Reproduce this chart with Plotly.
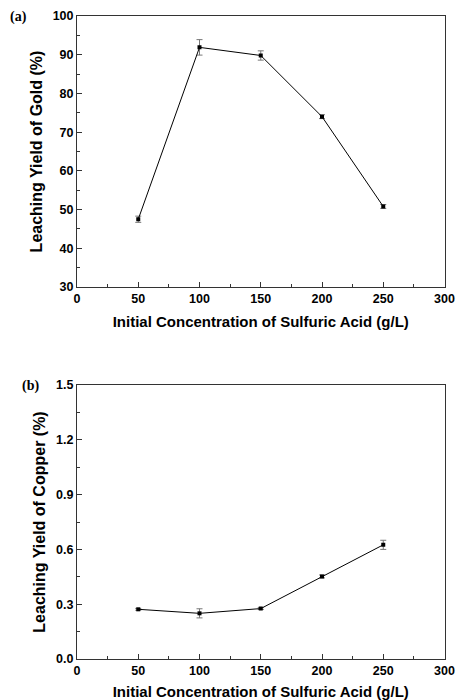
import plotly.graph_objects as go

conc = [50, 100, 150, 200, 250]
gold_yield = [47.5, 91.9, 89.8, 74.0, 50.8]
gold_err = [0.8, 2.0, 1.2, 0.5, 0.5]
copper_yield = [0.272, 0.250, 0.276, 0.452, 0.625]
copper_err = [0.005, 0.025, 0.005, 0.008, 0.025]

x_ticks = [0, 50, 100, 150, 200, 250, 300]
gold_ticks = [30, 40, 50, 60, 70, 80, 90, 100]
copper_ticks = [0.0, 0.3, 0.6, 0.9, 1.2, 1.5]
copper_tick_text = ["0.0", "0.3", "0.6", "0.9", "1.2", "1.5"]

W, H = 456, 700
x0, x1 = 77, 444.5
a_top, a_bot = 16, 287
b_top, b_bot = 385, 659

fig = go.Figure()
common = dict(mode="lines+markers", line=dict(color="black", width=1),
              marker=dict(symbol="square", size=4, color="black"), showlegend=False)
fig.add_trace(go.Scatter(x=conc, y=gold_yield,
                         error_y=dict(type="data", array=gold_err, color="#777", thickness=1, width=3),
                         xaxis="x", yaxis="y", **common))
fig.add_trace(go.Scatter(x=conc, y=copper_yield,
                         error_y=dict(type="data", array=copper_err, color="#777", thickness=1, width=3),
                         xaxis="x2", yaxis="y2", **common))

tickfont = dict(family="Liberation Sans", size=12.5, color="black")
xtitlefont = dict(family="Liberation Sans", size=15, color="black")
ytitlefont = dict(family="Liberation Sans", size=16, color="black")

def xax(domain_anchor):
    return dict(domain=[x0 / W, x1 / W], range=[0, 300], tickvals=x_ticks,
                ticktext=[f"<b>{v}</b>" for v in x_ticks],
                ticks="inside", ticklen=5, tickwidth=1, tickcolor="#333",
                minor=dict(dtick=25, ticks="inside", ticklen=3, tickcolor="#333"),
                showline=True, linecolor="#333", linewidth=1, mirror=True,
                showgrid=False, zeroline=False, tickfont=tickfont,
                anchor=domain_anchor, automargin=False, ticklabeloverflow="allow",
                title=dict(text="<b>Initial Concentration of Sulfuric Acid (g/L)</b>",
                           font=xtitlefont, standoff=11))

def yax(domain, rng, vals, texts, minor_dt, title, anchor):
    return dict(domain=domain, range=rng, tickvals=vals, ticktext=[f"<b>{t}</b>" for t in texts],
                ticks="inside", ticklen=5, tickwidth=1, tickcolor="#333",
                minor=dict(dtick=minor_dt, ticks="inside", ticklen=3, tickcolor="#333"),
                showline=True, linecolor="#333", linewidth=1, mirror=True,
                showgrid=False, zeroline=False, tickfont=tickfont, anchor=anchor,
                automargin=False, ticklabeloverflow="allow",
                title=dict(text=f"<b>{title}</b>", font=ytitlefont, standoff=6))

fig.update_layout(
    width=W, height=H, margin=dict(l=0, r=0, t=0, b=0),
    plot_bgcolor="white", paper_bgcolor="white",
    xaxis=xax("y"),
    xaxis2=xax("y2"),
    yaxis=yax([1 - a_bot / H, 1 - a_top / H], [30, 100], gold_ticks, gold_ticks, 5,
              "Leaching Yield of Gold (%)", "x"),
    yaxis2=yax([1 - b_bot / H, 1 - b_top / H], [0, 1.5], copper_ticks, copper_tick_text, 0.15,
               "Leaching Yield of Copper (%)", "x2"),
)

fig.add_annotation(text="<b>(a)</b>", x=8 / W, y=1 - 17 / H, xref="paper", yref="paper",
                   xanchor="left", yanchor="middle", showarrow=False,
                   font=dict(family="Liberation Serif", size=14, color="black"))
fig.add_annotation(text="<b>(b)</b>", x=20 / W, y=1 - 386 / H, xref="paper", yref="paper",
                   xanchor="left", yanchor="middle", showarrow=False,
                   font=dict(family="Liberation Serif", size=14, color="black"))

fig.write_html("out.html", config={"displayModeBar": False},
               post_script="document.body.style.margin='0';")
